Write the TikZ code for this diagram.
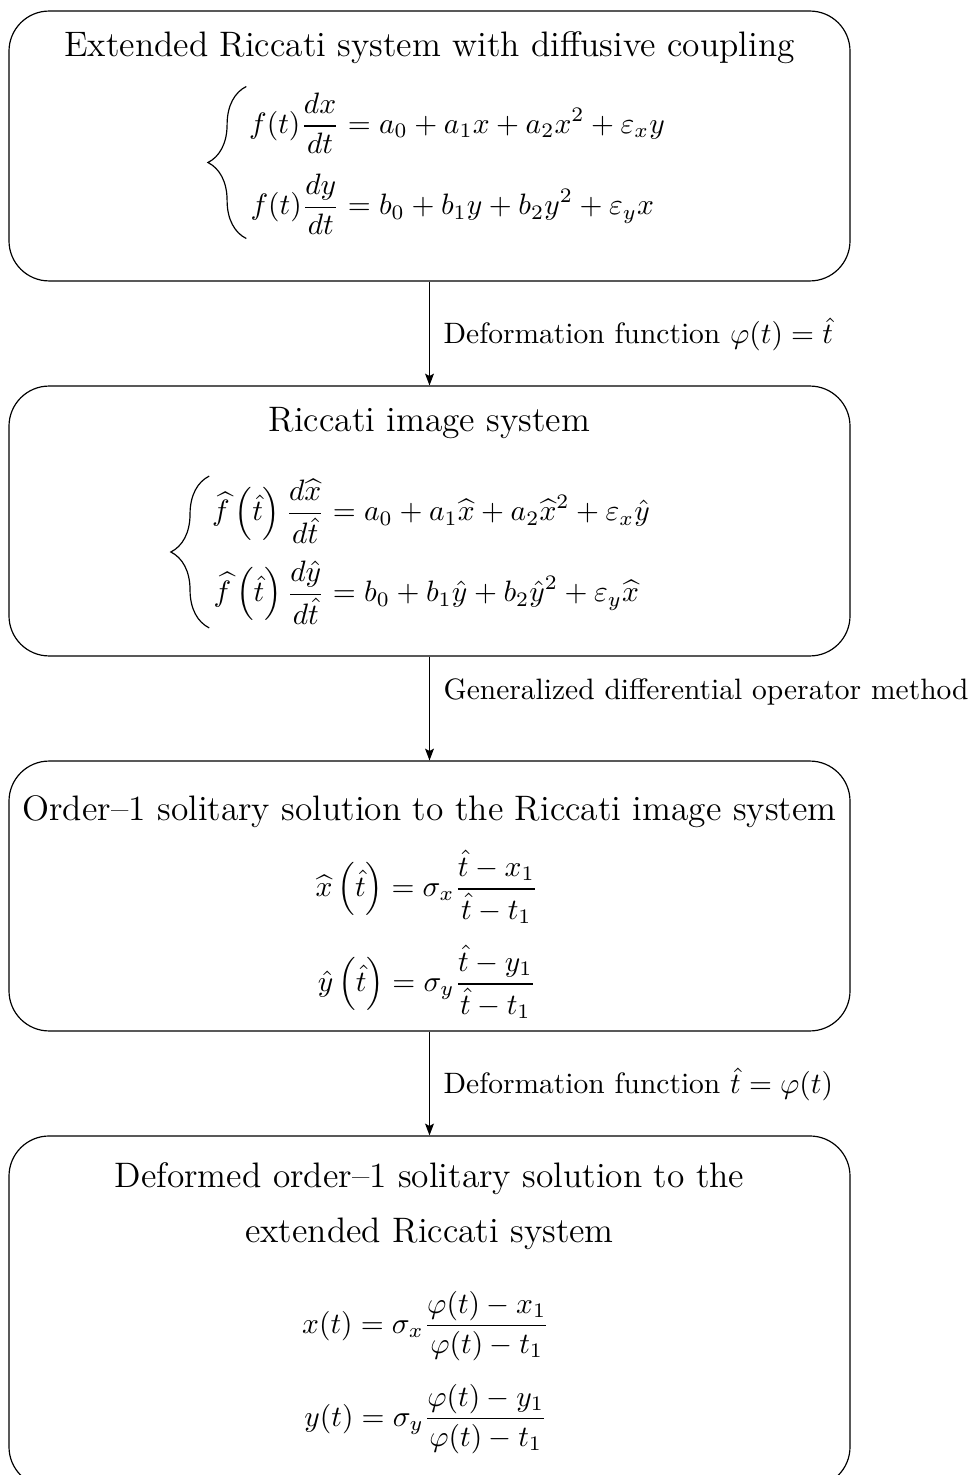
\documentclass[tikz,border=0pt]{standalone}
\usepackage{amsmath}
\usetikzlibrary{arrows.meta,decorations.pathreplacing}
\begin{document}
\begin{tikzpicture}[x=0.339pt,y=-0.339pt,
  box/.style={draw,line width=0.4pt,rounded corners=13.6pt,minimum width=285.1pt,inner sep=0pt},
  ttl/.style={font=\large,anchor=base,inner sep=0pt},
  eqn/.style={inner sep=0pt,anchor=center,font=\fontsize{10.4}{12.5}\selectfont},
  lbl/.style={anchor=west,inner sep=0pt,xshift=4.6pt},
  brc/.style={decorate,decoration={brace,amplitude=13pt},line width=0.4pt},
  arr/.style={-{Stealth[length=4pt,width=3pt,inset=0.8pt]},line width=0.4pt}]
\useasboundingbox (0,0) rectangle (971,1475);
% boxes
\node[box,minimum height=91.5pt] (b1) at (429.5,146) {};
\node[box,minimum height=91.5pt] (b2) at (429.5,521) {};
\node[box,minimum height=91.5pt] (b3) at (429.5,896) {};
\node[box,minimum height=119pt] (b4) at (429.5,1311.5) {};
% box 1
\node[ttl] (t1) at (429.5,57) {Extended Riccati system with diffusive coupling};
\node[eqn] (e1) at (457,164) {$\displaystyle\begin{aligned}
 f(t)\frac{dx}{dt} &= a_0+a_1x+a_2x^2+\varepsilon_x y\\[3pt]
 f(t)\frac{dy}{dt} &= b_0+b_1y+b_2y^2+\varepsilon_y x
\end{aligned}$};
\draw[brc] ([xshift=-0.8pt,yshift=-1pt]e1.south west) -- ([xshift=-0.8pt,yshift=2pt]e1.north west);
% box 2
\node[ttl] (t2) at (429.5,432) {Riccati image system};
\node[eqn] (e2) at (431,552) {$\displaystyle\begin{aligned}
 \widehat{f}\,\Big(\hat{t}\Big)\,\frac{d\widehat{x}}{d\hat{t}} &= a_0+a_1\widehat{x}+a_2\widehat{x}^2+\varepsilon_x\hat{y}\\[2pt]
 \widehat{f}\,\Big(\hat{t}\Big)\,\frac{d\hat{y}}{d\hat{t}} &= b_0+b_1\hat{y}+b_2\hat{y}^2+\varepsilon_y\widehat{x}
\end{aligned}$};
\draw[brc] ([xshift=-0.8pt,yshift=-1pt]e2.south west) -- ([xshift=-0.8pt,yshift=1pt]e2.north west);
% box 3
\node[ttl] (t3) at (429.5,820) {Order--1 solitary solution to the Riccati image system};
\node[eqn] (e3a) at (427,887) {$\displaystyle \widehat{x}\,\Big(\hat{t}\Big)=\sigma_x\frac{\hat{t}-x_1}{\hat{t}-t_1}$};
\node[eqn] (e3b) at (427,982) {$\displaystyle \hat{y}\,\Big(\hat{t}\Big)=\sigma_y\frac{\hat{t}-y_1}{\hat{t}-t_1}$};
% box 4
\node[ttl] (t4a) at (429.5,1187) {Deformed order--1 solitary solution to the};
\node[ttl] (t4b) at (429.5,1242) {extended Riccati system};
\node[eqn] (e4a) at (426,1326) {$\displaystyle x(t)=\sigma_x\frac{\varphi(t)-x_1}{\varphi(t)-t_1}$};
\node[eqn] (e4b) at (426,1419) {$\displaystyle y(t)=\sigma_y\frac{\varphi(t)-y_1}{\varphi(t)-t_1}$};
% arrows
\draw[arr] (b1.south) -- (b2.north) node[pos=0.51,lbl] (l1) {Deformation function $\varphi(t)=\hat{t}$};
\draw[arr] (b2.south) -- (b3.north) node[pos=0.34,lbl] (l2) {Generalized differential operator method};
\draw[arr] (b3.south) -- (b4.north) node[pos=0.51,lbl] (l3) {Deformation function $\hat{t}=\varphi(t)$};
\end{tikzpicture}
\end{document}
